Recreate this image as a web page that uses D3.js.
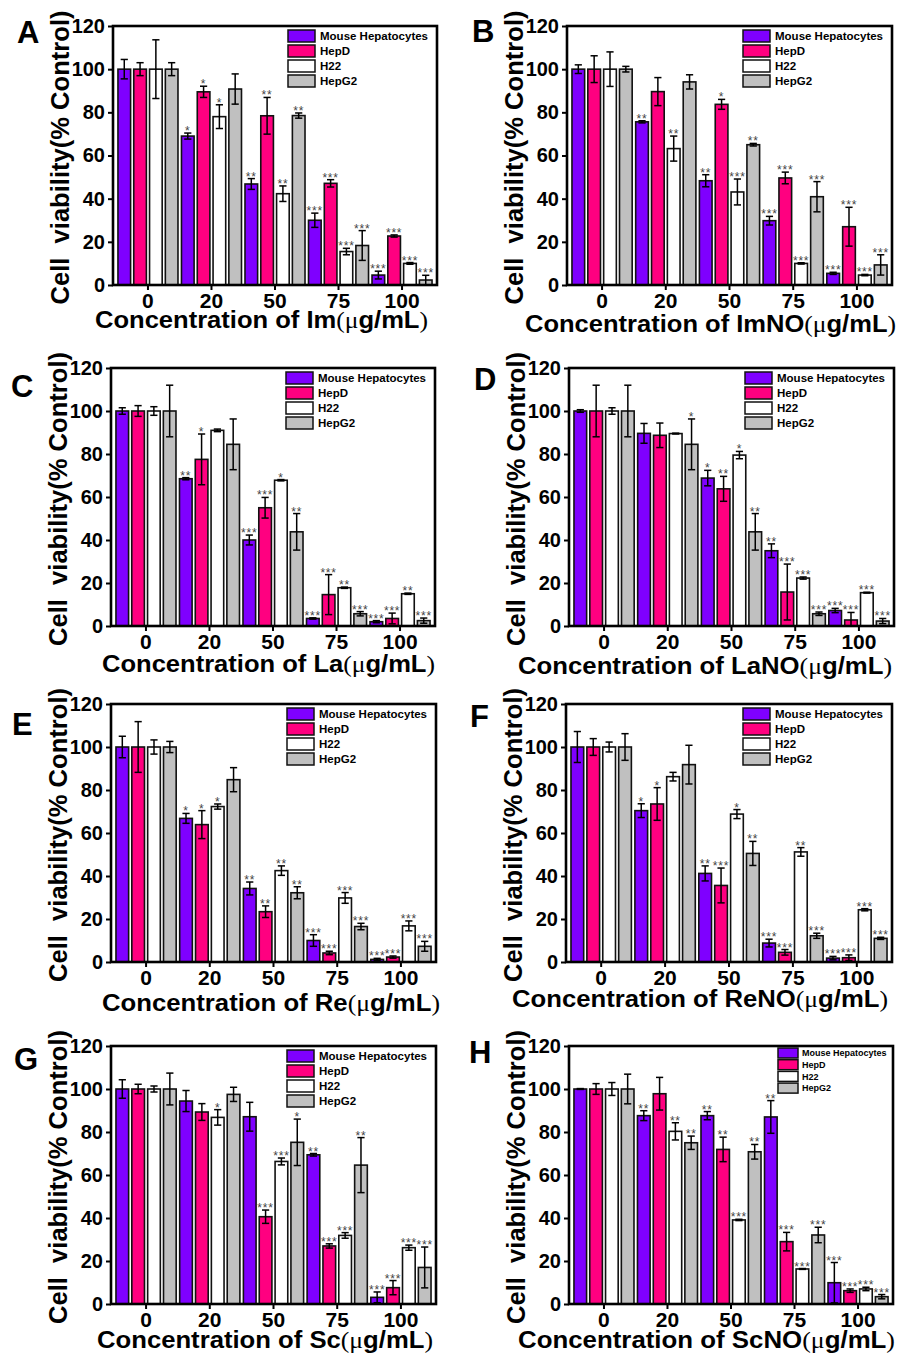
<!DOCTYPE html>
<html>
<head>
<meta charset="utf-8">
<script src="https://cdn.jsdelivr.net/npm/d3@7"></script>
<style>
  body { margin: 0; background: #fff; }
  text { font-family: "Liberation Sans", Arial, sans-serif; }
</style>
</head>
<body>
<div id="chart"></div>
<script>
// concentrations and cell lines shared by every panel
var groups = ["0", "20", "50", "75", "100"];
var cellLines = ["Mouse Hepatocytes", "HepD", "H22", "HepG2"];
var yTicks = [0, 20, 40, 60, 80, 100, 120];

// one row per concentration, one column per cell line
var imMean = [[100, 100, 100, 100], [69, 89.5, 78, 90.8], [46.8, 78.4, 42.3, 78.5], [30, 47.1, 15.5, 18.3], [4.6, 22.7, 10, 2.3]];
var imErr = [[4.5, 3, 13.6, 3], [1.4, 2.6, 5.5, 7], [2.5, 8.5, 3.6, 1.2], [3.3, 1.7, 1.5, 6.9], [1.8, 0.5, 0.4, 2.2]];
var imStars = [["", "", "", ""], ["*", "*", "*", ""], ["**", "**", "**", "**"], ["***", "***", "***", "***"], ["***", "***", "***", "***"]];

var imnoMean = [[100, 100, 100, 100], [75.6, 89.6, 63.2, 94.1], [48.3, 83.7, 43.1, 65], [29.8, 49.6, 10, 40.9], [5.4, 27, 4.6, 9.3]];
var imnoErr = [[2, 6.2, 8, 1.3], [0.5, 6.5, 5.8, 3.3], [2.8, 2.3, 6, 0.6], [2, 2.7, 0.3, 7], [0.5, 9, 0.3, 4.7]];
var imnoStars = [["", "", "", ""], ["**", "", "**", ""], ["**", "*", "***", "**"], ["***", "***", "***", "***"], ["***", "***", "***", "***"]];

var laMean = [[100, 100, 100, 100], [68.5, 77.5, 91, 84.5], [40, 55, 67.8, 43.8], [3.5, 14.6, 17.8, 5.7], [2, 3.5, 15, 2.5]];
var laErr = [[1.5, 2.5, 2, 12], [0.5, 11.8, 0.6, 11.8], [2.3, 4.8, 0.3, 8.5], [0.3, 9.3, 0.3, 1], [0.5, 2.5, 0.3, 1.2]];
var laStars = [["", "", "", ""], ["**", "*", "", ""], ["***", "***", "*", "**"], ["***", "***", "**", "***"], ["***", "***", "**", "***"]];

var lanoMean = [[100, 100, 100, 100], [89.6, 88.7, 89.5, 84.5], [68.8, 63.8, 79.5, 43.8], [35, 15.8, 22.3, 5.7], [7.2, 2.8, 15.5, 2.3]];
var lanoErr = [[0.6, 12, 1.5, 12], [4.6, 5.7, 0.2, 11.8], [3.6, 5.8, 1.7, 8.5], [3.2, 13, 0.5, 0.8], [1, 3.5, 0.2, 1.2]];
var lanoStars = [["", "", "", ""], ["", "", "", "*"], ["*", "**", "*", "**"], ["**", "***", "***", "***"], ["***", "***", "***", "***"]];

var reMean = [[100, 100, 100, 100], [66.8, 63.9, 72.3, 84.8], [34.2, 23.4, 42.5, 32.2], [10, 4.2, 29.8, 16.5], [1.2, 2.3, 16.8, 7.3]];
var reErr = [[5, 11.8, 3.3, 2.6], [2.3, 6.5, 1.2, 5.6], [3, 2.7, 2.2, 2.8], [2.7, 0.8, 2.5, 1.5], [0.5, 0.5, 2.3, 2.3]];
var reStars = [["", "", "", ""], ["*", "*", "*", ""], ["**", "**", "**", "**"], ["***", "***", "***", "***"], ["***", "***", "***", "***"]];

var renoMean = [[100, 100, 100, 100], [70.4, 73.5, 86.2, 91.8], [41.2, 35.6, 68.8, 50.5], [8.8, 4.5, 51.2, 12.2], [1.8, 2, 24.3, 11]];
var renoErr = [[7.2, 3.9, 2.3, 6.2], [3.2, 7.6, 2, 9], [3.5, 8.1, 2.1, 5.6], [1.8, 1.3, 2, 1.2], [0.8, 1.3, 0.5, 0.5]];
var renoStars = [["", "", "", ""], ["*", "*", "", ""], ["**", "***", "*", "**"], ["***", "***", "**", "***"], ["***", "***", "***", "***"]];

var scMean = [[100, 100, 100, 100], [94.4, 89.3, 86.8, 97.5], [87.1, 40.6, 66.3, 75.2], [69.4, 27, 31.9, 64.6], [3.1, 7.6, 26.2, 17]];
var scErr = [[4.3, 2.2, 1.4, 7.4], [4.9, 3.9, 3.6, 3.3], [6.7, 3.1, 1.6, 10.8], [0.6, 1, 1.3, 12.8], [2.5, 3.3, 1.2, 9.5]];
var scStars = [["", "", "", ""], ["", "", "*", ""], ["", "***", "***", "*"], ["**", "***", "***", "**"], ["***", "***", "***", "***"]];

var scnoMean = [[100, 100, 100, 100], [87.6, 97.8, 80.3, 75], [87.6, 71.9, 39.1, 70.8], [87, 29, 16.3, 32.1], [9.9, 6.2, 7, 3.4]];
var scnoErr = [[0.2, 2.5, 3, 6.9], [2.3, 7.6, 4, 3.1], [1.9, 5.7, 0.3, 3.4], [7.6, 4.3, 0.2, 3.6], [9.4, 0.8, 0.8, 1]];
var scnoStars = [["", "", "", ""], ["**", "", "**", "**"], ["**", "**", "***", "**"], ["**", "***", "***", "***"], ["***", "***", "***", "***"]];

var colors = ["#7f00ff", "#ff0080", "#ffffff", "#c0c0c0"];

// panel frames (plot area) and label placement
var panels = [
    {letter: "A", compound: "Im", mean: imMean, err: imErr, stars: imStars, x: 113, y: 26, w: 324, h: 259, lx: 17, ly: 43, tx0: 95, tx1: 428, tdy: 43},
    {letter: "B", compound: "ImNO", mean: imnoMean, err: imnoErr, stars: imnoStars, x: 567, y: 26, w: 325, h: 259, lx: 472, ly: 42, tx0: 525, tx1: 896, tdy: 47},
    {letter: "C", compound: "La", mean: laMean, err: laErr, stars: laStars, x: 111, y: 368, w: 324, h: 258, lx: 11, ly: 397, tx0: 102, tx1: 435, tdy: 46},
    {letter: "D", compound: "LaNO", mean: lanoMean, err: lanoErr, stars: lanoStars, x: 569, y: 368, w: 325, h: 258, lx: 474, ly: 390, tx0: 518, tx1: 892, tdy: 48},
    {letter: "E", compound: "Re", mean: reMean, err: reErr, stars: reStars, x: 111, y: 704, w: 325, h: 258, lx: 12, ly: 735, tx0: 102, tx1: 440, tdy: 49},
    {letter: "F", compound: "ReNO", mean: renoMean, err: renoErr, stars: renoStars, x: 566, y: 704, w: 326, h: 258, lx: 470, ly: 727, tx0: 512, tx1: 888, tdy: 45},
    {letter: "G", compound: "Sc", mean: scMean, err: scErr, stars: scStars, x: 111, y: 1046, w: 325, h: 258, lx: 14, ly: 1070, tx0: 97, tx1: 433, tdy: 44},
    {letter: "H", compound: "ScNO", mean: scnoMean, err: scnoErr, stars: scnoStars, x: 569, y: 1046, w: 324, h: 258, lx: 469, ly: 1063, tx0: 518, tx1: 895, tdy: 44, small: true}
];

var svg = d3.select("#chart")
    .append("svg")
    .attr("width", 900)
    .attr("height", 1358);

svg.append("rect").attr("width", 900).attr("height", 1358).attr("fill", "#fff");

panels.forEach(function(p) { drawPanel(svg, p) });

function drawPanel(svg, p) {
    var g = svg.append("g").attr("transform", `translate(${p.x},${p.y})`);

    var x0 = d3.scaleBand()
        .domain(groups)
        .range([0, p.w])
        .paddingInner(0.055)
        .paddingOuter(0.078);

    var x1 = d3.scaleBand()
        .domain(d3.range(cellLines.length))
        .range([0, x0.bandwidth()])
        .paddingInner(0.2);

    var y = d3.scaleLinear()
        .domain([0, 120])
        .range([p.h, 0]);

    // bars
    var groupSel = g.selectAll(".grp")
        .data(groups)
        .enter()
        .append("g")
        .attr("transform", d => `translate(${x0(d)},0)`);

    groupSel.each(function(grp, gi) {
        var rows = cellLines.map((c, ci) => ({ci: ci, v: p.mean[gi][ci], e: p.err[gi][ci], s: p.stars[gi][ci]}));
        var sel = d3.select(this);

        sel.selectAll("rect")
            .data(rows)
            .enter()
            .append("rect")
            .attr("x", d => x1(d.ci))
            .attr("y", d => y(d.v))
            .attr("width", x1.bandwidth())
            .attr("height", d => p.h - y(d.v))
            .attr("fill", d => colors[d.ci])
            .attr("stroke", "#111")
            .attr("stroke-width", 1.6);

        // error bars
        var eb = sel.selectAll(".eb")
            .data(rows)
            .enter()
            .append("g")
            .attr("stroke", "#000")
            .attr("stroke-width", 1.5);
        var cx = d => x1(d.ci) + x1.bandwidth() / 2;
        eb.append("line")
            .attr("x1", cx).attr("x2", cx)
            .attr("y1", d => y(d.v + d.e))
            .attr("y2", d => y(Math.max(0, d.v - d.e)));
        eb.append("line")
            .attr("x1", d => cx(d) - 3.6).attr("x2", d => cx(d) + 3.6)
            .attr("y1", d => y(d.v + d.e)).attr("y2", d => y(d.v + d.e));
        eb.append("line")
            .attr("x1", d => cx(d) - 3.6).attr("x2", d => cx(d) + 3.6)
            .attr("y1", d => y(Math.max(0, d.v - d.e))).attr("y2", d => y(Math.max(0, d.v - d.e)));

        // significance stars
        sel.selectAll(".star")
            .data(rows.filter(d => d.s !== ""))
            .enter()
            .append("text")
            .attr("x", cx)
            .attr("y", d => y(d.v + d.e) + 2)
            .attr("text-anchor", "middle")
            .style("font-size", "12px")
            .style("letter-spacing", "0.8px")
            .attr("fill", "#444")
            .text(d => d.s);
    });

    // axes
    var yAxis = g.append("g")
        .call(d3.axisLeft(y).tickValues(yTicks).tickSize(5).tickPadding(3));
    var xAxis = g.append("g")
        .attr("transform", `translate(0,${p.h})`)
        .call(d3.axisBottom(x0).tickSize(5).tickPadding(3));
    [yAxis, xAxis].forEach(function(a) {
        a.select(".domain").remove();
        a.selectAll("line").attr("stroke", "#000").attr("stroke-width", 2);
        a.selectAll("text")
            .attr("fill", "#000")
            .style("font-weight", "bold")
            .style("font-family", '"Liberation Sans", Arial, sans-serif');
    });
    yAxis.selectAll("text").style("font-size", "20px");
    xAxis.selectAll("text").style("font-size", "21px");

    // frame
    g.append("rect")
        .attr("width", p.w)
        .attr("height", p.h)
        .attr("fill", "none")
        .attr("stroke", "#000")
        .attr("stroke-width", 2.6);

    // legend
    var lg = p.small
        ? {dx: -115, dy: 2, sw: 20, sh: 10, step: 11.7, tx: 24, fs: 9}
        : {dx: -149, dy: 4, sw: 27, sh: 12, step: 15, tx: 32, fs: 11.5};
    var leg = g.append("g").attr("transform", `translate(${p.w + lg.dx},${lg.dy})`);
    var item = leg.selectAll("g")
        .data(cellLines)
        .enter()
        .append("g")
        .attr("transform", (d, i) => `translate(0,${i * lg.step})`);
    item.append("rect")
        .attr("width", lg.sw)
        .attr("height", lg.sh)
        .attr("fill", (d, i) => colors[i])
        .attr("stroke", "#111")
        .attr("stroke-width", 1.5);
    item.append("text")
        .attr("x", lg.tx)
        .attr("y", lg.sh / 2)
        .attr("dy", "0.36em")
        .style("font-size", lg.fs + "px")
        .style("font-weight", "bold")
        .text(d => d);

    // axis titles
    svg.append("text")
        .attr("transform", `translate(${p.x - 44},${p.y + p.h / 2 + 2}) rotate(-90)`)
        .attr("text-anchor", "middle")
        .attr("textLength", 294)
        .attr("lengthAdjust", "spacingAndGlyphs")
        .style("font-size", "25px")
        .style("font-weight", "bold")
        .style("white-space", "pre")
        .text("Cell  viability(% Control)");

    var xt = svg.append("text")
        .attr("x", p.tx0)
        .attr("y", p.y + p.h + p.tdy)
        .attr("textLength", p.tx1 - p.tx0)
        .attr("lengthAdjust", "spacingAndGlyphs")
        .style("font-size", "24px")
        .style("font-weight", "bold");
    xt.append("tspan").text("Concentration of " + p.compound);
    xt.append("tspan").style("font-family", '"Liberation Serif", serif').style("font-weight", "normal").text("(\u03bc");
    xt.append("tspan").text("g/mL");
    xt.append("tspan").style("font-family", '"Liberation Serif", serif').style("font-weight", "normal").text(")");

    // panel letter
    svg.append("text")
        .attr("x", p.lx)
        .attr("y", p.ly)
        .style("font-size", "31px")
        .style("font-weight", "bold")
        .text(p.letter);
}
</script>
</body>
</html>
